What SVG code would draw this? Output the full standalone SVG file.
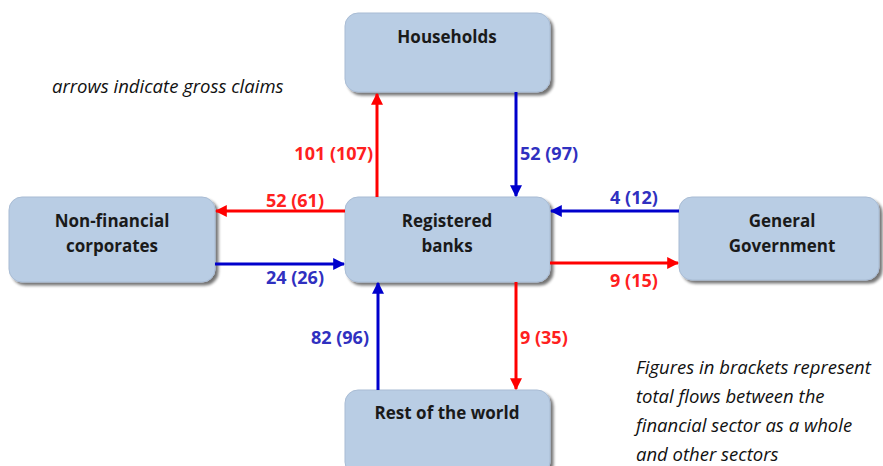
<svg xmlns="http://www.w3.org/2000/svg" width="883" height="466" viewBox="0 0 883 466">
<defs>
<filter id="sh" x="-10%" y="-10%" width="130%" height="130%">
<feGaussianBlur in="SourceAlpha" stdDeviation="1.5"/>
<feOffset dx="3" dy="3" result="b"/>
<feComponentTransfer><feFuncA type="linear" slope="0.55"/></feComponentTransfer>
<feMerge><feMergeNode/><feMergeNode in="SourceGraphic"/></feMerge>
</filter>
<marker id="ar" viewBox="0 0 10 10" refX="9" refY="5" markerWidth="4" markerHeight="4" orient="auto"><path d="M0,0L10,5L0,10z" fill="#ff0000"/></marker>
<marker id="ab" viewBox="0 0 10 10" refX="9" refY="5" markerWidth="4" markerHeight="4" orient="auto"><path d="M0,0L10,5L0,10z" fill="#0000cc"/></marker>
</defs>
<style>
.box{fill:#b9cde4;stroke:#a9bcd4;stroke-width:1;filter:url(#sh)}
.lbl{font-family:"Open Sans","Liberation Sans",sans-serif;font-weight:bold;font-size:17px;fill:#1a1a1a;text-anchor:middle}
.r{stroke:#ff0000;stroke-width:3;fill:none;marker-end:url(#ar)}
.b{stroke:#0000cc;stroke-width:3;fill:none;marker-end:url(#ab)}
.rt{font-family:"Open Sans","Liberation Sans",sans-serif;font-weight:bold;font-size:18px;fill:#ff2020}
.bt{font-family:"Open Sans","Liberation Sans",sans-serif;font-weight:bold;font-size:18px;fill:#3030c0}
.note{font-family:"Open Sans","Liberation Sans",sans-serif;font-style:italic;font-size:18.5px;fill:#111}
</style>
<g id="households"><rect class="box" x="345" y="13" width="205" height="79" rx="13"/><text class="lbl" x="447" y="43">Households</text></g>
<g id="nonfinancial"><rect class="box" x="9" y="197" width="206" height="85" rx="13"/><text class="lbl" x="112" y="227">Non-financial</text><text class="lbl" x="112" y="252">corporates</text></g>
<g id="banks"><rect class="box" x="345" y="197" width="205" height="85" rx="13"/><text class="lbl" x="447" y="227">Registered</text><text class="lbl" x="447" y="252">banks</text></g>
<g id="government"><rect class="box" x="679" y="197" width="200" height="83" rx="13"/><text class="lbl" x="782" y="227">General</text><text class="lbl" x="782" y="252">Government</text></g>
<g id="rest"><rect class="box" x="345" y="390" width="205" height="85" rx="13"/><text class="lbl" x="447" y="419">Rest of the world</text></g>
<g id="connectors">
<line class="r" x1="377" y1="197" x2="377" y2="94"/>
<line class="b" x1="516" y1="92" x2="516" y2="196"/>
<line class="r" x1="345" y1="211" x2="216" y2="211"/>
<line class="b" x1="215" y1="264" x2="344" y2="264"/>
<line class="b" x1="679" y1="211" x2="551" y2="211"/>
<line class="r" x1="550" y1="263" x2="678" y2="263"/>
<line class="b" x1="378" y1="390" x2="378" y2="283"/>
<line class="r" x1="516" y1="282" x2="516" y2="389"/>
</g>
<g id="labels">
<text class="rt" x="373" y="160" text-anchor="end">101 (107)</text>
<text class="bt" x="520" y="160">52 (97)</text>
<text class="rt" x="295" y="207" text-anchor="middle">52 (61)</text>
<text class="bt" x="295" y="284" text-anchor="middle">24 (26)</text>
<text class="bt" x="634" y="204" text-anchor="middle">4 (12)</text>
<text class="rt" x="634" y="287" text-anchor="middle">9 (15)</text>
<text class="bt" x="369" y="344" text-anchor="end">82 (96)</text>
<text class="rt" x="520" y="344">9 (35)</text>
</g>
<text class="note" x="52" y="93">arrows indicate gross claims</text>
<text class="note" x="636" y="374">Figures in brackets represent</text>
<text class="note" x="636" y="403">total flows between the</text>
<text class="note" x="636" y="432">financial sector as a whole</text>
<text class="note" x="636" y="461">and other sectors</text>
</svg>
